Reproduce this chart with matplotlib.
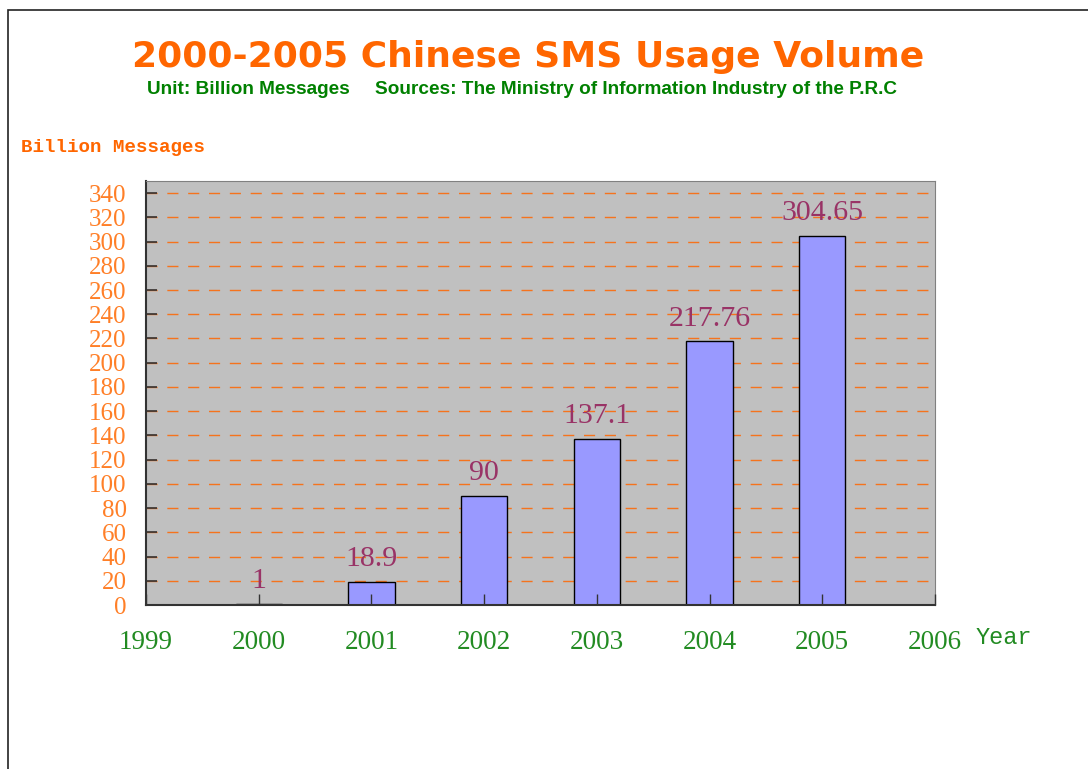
import matplotlib
matplotlib.use("Agg")
import matplotlib.pyplot as plt
from matplotlib.patches import Rectangle

# data
years = [2000, 2001, 2002, 2003, 2004, 2005]
volume = [1, 18.9, 90, 137.1, 217.76, 304.65]
labels = ["1", "18.9", "90", "137.1", "217.76", "304.65"]
xticks = [1999, 2000, 2001, 2002, 2003, 2004, 2005, 2006]
yticks = list(range(0, 341, 20))

ORANGE = "#FF6600"
GREEN = "#008000"

fig = plt.figure(figsize=(10.88, 7.69), dpi=100)

# outer frame (cut off at right/bottom like the original)
fig.patches.append(Rectangle((8 / 1088, -0.1), 1.2, 1 - 10 / 769 + 0.1,
                             transform=fig.transFigure, fill=False,
                             edgecolor="#222222", linewidth=1.2))

ax = fig.add_axes([146 / 1088, 1 - 605 / 769, 789 / 1088, 424 / 769])
ax.set_facecolor("#C0C0C0")
ax.set_axisbelow(False)  # inward ticks drawn over the bars

ax.bar(years, volume, width=0.41, color="#9999FF", edgecolor="black",
       linewidth=1.0, zorder=2)

for x, v, t in zip(years, volume, labels):
    ax.text(x, v + 8, t, ha="center", va="bottom", color="#993366",
            fontsize=21.5, family="Liberation Serif", zorder=4)

ax.set_xlim(1999, 2006)
ax.set_ylim(0, 350)
ax.set_xticks(xticks)
ax.set_yticks(yticks)
ax.set_xticklabels([str(x) for x in xticks], color="#228B22",
                   fontsize=19.5, family="Liberation Serif")
ax.set_yticklabels([str(y) for y in yticks], color="#FF7F27",
                   fontsize=18, family="Liberation Serif")
ax.tick_params(axis="x", direction="in", length=8, width=1, pad=18,
               color="#333333")
ax.tick_params(axis="y", direction="in", length=8, width=1.2, pad=14,
               color="#333333")

for y in yticks[1:]:
    ax.axhline(y, color=ORANGE, linestyle=(0, (8, 7)), linewidth=1,
               alpha=0.85, zorder=1)

for s in ["top", "right"]:
    ax.spines[s].set_color("#808080")
for s in ["left", "bottom"]:
    ax.spines[s].set_color("#333333")
    ax.spines[s].set_linewidth(1.5)

# titles
fig.text(528 / 1088, 1 - 57 / 769, "2000-2005 Chinese SMS Usage Volume",
         ha="center", va="center", color=ORANGE, fontsize=26,
         fontweight="bold", family="DejaVu Sans")
fig.text(147 / 1088, 1 - 90 / 769, "Unit: Billion Messages",
         ha="left", va="center", color=GREEN, fontsize=13.7,
         fontweight="bold", family="Liberation Sans")
fig.text(375 / 1088, 1 - 90 / 769,
         "Sources: The Ministry of Information Industry of the P.R.C",
         ha="left", va="center", color=GREEN, fontsize=13.7,
         fontweight="bold", family="Liberation Sans")

fig.text(21 / 1088, 1 - 148 / 769, "Billion Messages", ha="left",
         va="center", color=ORANGE, fontsize=13.8, fontweight="bold",
         family="Liberation Mono")
fig.text(976 / 1088, 1 - 637 / 769, "Year", ha="left", va="center",
         color="#228B22", fontsize=17, family="Liberation Mono")

fig.savefig("out.png", dpi=100)
